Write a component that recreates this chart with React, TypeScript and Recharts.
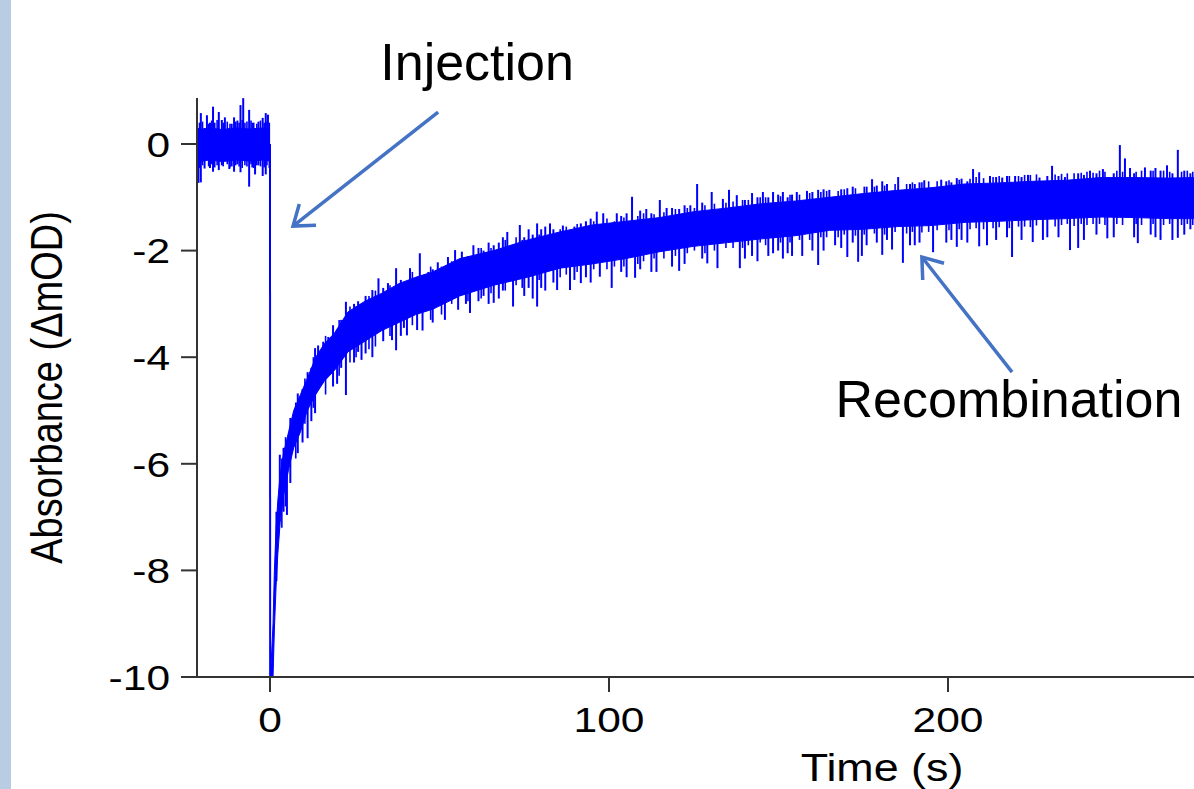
import React from 'react';
import {
  ComposedChart,
  Area,
  Line,
  Scatter,
  ErrorBar,
  XAxis,
  YAxis,
  Label,
  ReferenceLine,
  ReferenceDot,
} from 'recharts';

const FONT = '"Liberation Sans", Arial, Helvetica, sans-serif';
const TRACE = '#0000ff';
const ARROW = '#4472c4';
const AXIS = '#333333';
const STRETCH = 1.18;

// ---- axis ticks ----
const xTicks = [0, 100, 200];
const yTicks = [0, -2, -4, -6, -8, -10];

// ---- pre-injection baseline band (core of the noise) ----
const preT = [-21.4, -18, -14, -10, -6, -2, 0];
const preLo = [-0.34, -0.3, -0.33, -0.3, -0.32, -0.3, -0.32];
const preHi = [0.26, 0.3, 0.27, 0.3, 0.28, 0.3, 0.26];

// ---- injection drop ----
const dropT = [0, 0.05];
const dropV = [0, -10];

// ---- post-injection recovery band (core of the noise) ----
const postT = [0.3, 0.9, 1.3, 1.8, 2.3, 3, 4, 5.5, 7, 9, 11, 13.5, 16, 19, 23, 28, 33, 38, 43, 48, 56, 66, 76, 85.5, 95, 105, 115, 125, 135, 145, 155, 165, 175, 185, 195, 205, 215, 225, 235, 245, 255, 265, 272.6];
const postLo = [-10, -10, -9.1, -8.3, -7.7, -7.1, -6.6, -6.1, -5.7, -5.4, -5.0, -4.7, -4.45, -4.25, -3.9, -3.7, -3.5, -3.35, -3.2, -3.1, -2.85, -2.65, -2.5, -2.33, -2.25, -2.15, -2.02, -1.92, -1.85, -1.78, -1.72, -1.62, -1.6, -1.55, -1.53, -1.47, -1.45, -1.42, -1.4, -1.37, -1.38, -1.4, -1.4];
const postHi = [-9.8, -9.0, -8.0, -7.2, -6.7, -6.2, -5.8, -5.4, -5.0, -4.7, -4.4, -4.0, -3.75, -3.55, -3.15, -2.95, -2.8, -2.62, -2.5, -2.4, -2.15, -2.0, -1.8, -1.65, -1.52, -1.45, -1.38, -1.27, -1.2, -1.12, -1.07, -1.0, -0.93, -0.87, -0.82, -0.75, -0.73, -0.7, -0.68, -0.63, -0.63, -0.64, -0.63];

// ---- large noise spikes: time, low extreme, high extreme ----
const spikeT = [
  -21.1, -20.4, -19.3, -18.6, -17.7, -16.8, -15.1, -14.2, -13.3, -12.0, -11.3, -10.6, -9.6, -8.7, -7.9, -6.15, -5.2, -4.4, -3.4, -2.15, -1.25, -0.6,
  1.9, 2.9, 4.0, 5.0, 6.0, 8.2, 9.6, 11.1, 12.2, 13.3, 14.2, 15.7, 17.2, 18.6, 19.8, 21.0, 22.4, 24.8, 26.0, 27.0, 28.2, 30.2, 32.0, 33.4, 34.8, 36.0, 37.2, 38.6, 39.5, 40.4, 41.3,
  43.4, 44.2, 45.0, 46.7, 48.0, 49.5, 51.6, 52.5, 54.6, 55.5, 56.6, 57.8, 59.0, 60.0, 61.5, 63.0, 64.5, 66.0, 67.5, 68.7, 70.0, 71.7, 73.7, 75.0, 76.3, 77.5, 78.8, 80.0, 81.2, 82.6, 83.6, 84.7, 86.4, 88.5, 89.8,
  91.7, 93.2, 94.6, 96.4, 97.3, 98.3, 100.8, 102.3, 103.6, 105.2, 106.8, 107.7, 109.2, 111.0, 112.5, 114.0, 115.0, 117.0, 118.6, 120.7, 122.3, 124.0, 126.0, 127.5, 129.0, 130.3, 132.0, 133.6, 135.4, 137.7, 138.6,
  140.1, 142.2, 143.8, 145.4, 147.0, 148.4, 149.9, 151.3, 152.7, 154.0, 155.4, 157.0, 158.4, 160.0, 161.7, 163.3, 165.0, 166.7, 168.5, 170.3, 171.9, 173.5, 174.6, 176.0, 177.6, 179.0, 180.6, 182.0, 183.5,
  185.3, 186.7, 188.8, 190.2, 191.6, 193.0, 195.6, 198.0, 199.5, 201.0, 202.6, 204.0, 205.7, 207.4, 209.2, 211.5, 212.4, 214.2, 216.0, 217.4, 218.9, 219.8, 221.7, 223.6, 225.0, 227.0, 228.0, 229.3,
  230.7, 232.6, 234.5, 236.0, 238.4, 240.1, 241.9, 243.8, 245.7, 247.0, 248.9, 250.7, 252.2, 253.7, 254.9, 256.0, 258.1, 259.8, 261.2, 262.7, 264.6, 266.2, 267.8, 269.7, 271.5,
];
const spikeLo = [
  -0.73, -0.72, -0.46, -0.3, -0.45, -0.52, -0.49, -0.4, -0.3, -0.47, -0.42, -0.52, -0.38, -0.53, -0.3, -0.8, -0.44, -0.57, -0.4, -0.6, -0.57, -0.3,
  -8.2, -6.5, -6.9, -6.96, -6.36, -5.8, -5.6, -5.52, -5.2, -5.05, -4.3, -4.1, -4.0, -4.55, -4.5, -4.2, -4.71, -4.1, -3.9, -4.05, -3.93, -4.0, -3.1, -3.7, -3.1, -3.68, -3.87, -3.6, -3.45, -3.59, -2.9,
  -3.49, -2.7, -3.5, -2.8, -3.35, -2.8, -3.3, -2.7, -2.6, -3.11, -2.5, -3.0, -3.17, -2.4, -2.95, -2.85, -3.0, -2.98, -2.9, -2.75, -2.3, -3.05, -2.2, -2.85, -2.7, -2.9, -3.05, -2.7, -2.75, -2.1, -2.6, -2.74, -2.0, -2.74, -2.55,
  -2.61, -2.5, -2.6, -1.9, -2.49, -1.9, -2.7, -1.8, -2.4, -2.5, -1.7, -2.51, -2.35, -1.7, -2.4, -2.4, -1.6, -1.6, -2.3, -2.38, -2.25, -1.5, -1.5, -2.15, -2.24, -1.5, -2.33, -1.4, -1.4, -1.4, -2.33,
  -2.15, -2.1, -2.2, -1.4, -2.1, -2.05, -2.0, -2.15, -2.05, -2.1, -1.3, -2.1, -1.3, -2.0, -2.27, -2.0, -1.3, -1.9, -1.95, -2.12, -1.85, -2.21, -2.1, -1.9, -1.2, -1.85, -2.08, -1.8, -1.98,
  -1.2, -2.23, -1.9, -1.9, -1.85, -1.2, -2.03, -1.1, -1.85, -1.8, -1.93, -1.8, -1.85, -1.1, -1.92, -1.9, -1.1, -1.8, -1.1, -1.75, -2.12, -1.1, -1.8, -1.0, -1.84, -1.0, -1.8, -1.75,
  -1.0, -1.75, -1.0, -1.99, -1.95, -1.8, -1.0, -1.7, -1.0, -1.77, -1.75, -1.0, -1.0, -1.0, -1.75, -1.86, -1.0, -1.7, -1.75, -1.8, -1.0, -1.8, -1.76, -1.7, -1.6,
];
const spikeHi = [
  0.3, 0.58, 0.3, 0.54, 0.4, 0.7, 0.6, 0.45, 0.5, 0.3, 0.38, 0.5, 0.44, 0.73, 0.86, 0.64, 0.4, 0.3, 0.42, 0.49, 0.58, 0.55,
  -6.9, -5.83, -5.7, -6.0, -5.14, -4.68, -4.6, -4.28, -4.2, -3.83, -3.78, -3.71, -3.62, -3.4, -3.5, -3.3, -2.96, -3.0, -2.95, -3.0, -2.85, -2.74, -2.52, -2.7, -2.61, -3.0, -2.33, -2.55, -2.6, -2.9, -2.33,
  -2.8, -2.05, -2.8, -2.4, -2.35, -2.22, -2.7, -2.12, -1.99, -2.5, -2.02, -2.15, -2.4, -1.9, -1.95, -2.0, -1.85, -1.9, -1.85, -1.75, -1.65, -2.2, -1.52, -1.75, -1.6, -1.7, -1.49, -1.6, -1.55, -1.49, -1.6, -2.0, -1.53, -1.9, -1.55,
  -1.49, -1.45, -1.4, -1.27, -1.8, -1.3, -1.8, -1.3, -1.35, -1.3, -0.99, -1.8, -1.25, -1.22, -1.3, -1.7, -1.05, -1.2, -1.2, -1.22, -1.15, -1.15, -0.75, -1.1, -1.5, -0.9, -1.5, -1.03, -0.86, -0.96, -1.5,
  -1.05, -0.92, -1.0, -0.9, -1.0, -0.9, -0.95, -0.9, -1.0, -0.95, -0.9, -1.3, -0.88, -0.9, -0.86, -0.85, -0.86, -1.3, -0.85, -0.83, -0.8, -1.2, -1.2, -0.8, -0.66, -0.78, -0.7, -0.75, -1.2,
  -0.62, -1.2, -0.75, -0.75, -0.72, -0.68, -1.2, -0.67, -0.7, -0.72, -0.64, -0.65, -0.7, -0.47, -0.53, -1.1, -0.6, -0.62, -0.63, -0.6, -1.1, -0.6, -0.62, -0.58, -1.0, -0.63, -1.0, -0.6,
  -0.41, -0.6, -0.62, -1.0, -0.55, -0.58, -0.5, -0.55, -0.47, -1.0, -0.55, -0.02, -0.27, -0.45, -0.55, -1.0, -0.44, -0.5, -0.45, -0.5, -0.4, -0.55, -0.11, -0.5, -0.55,
];

// ---- small noise fuzz along the band edges: time, low, high ----
const fuzzT = [
  -20.8, -19.9, -18.1, -17.2, -16.3, -15.6, -13.8, -12.6, -11.8, -10.1, -9.1, -8.2, -7.4, -6.8, -5.6, -4.8, -3.9, -2.8, -1.7, -0.9, -0.2,
  3.5, 4.6, 7.6, 10.3, 12.8, 16.4, 20.4, 23.6, 25.4, 29.2, 31.1, 35.4, 42.0, 47.4, 50.6, 53.6, 58.4, 62.3, 65.2, 69.4, 72.6, 74.4, 79.4, 85.6, 87.4, 90.6, 95.5, 99.4,
  101.6, 104.4, 108.5, 110.2, 113.3, 116.2, 119.6, 123.1, 125.2, 128.3, 131.1, 134.5, 136.6, 139.4, 141.1, 144.6, 146.2, 150.6, 153.4, 156.2, 159.2, 162.5, 164.2, 167.6, 169.4, 172.7, 175.3, 178.3,
  181.3, 184.4, 187.8, 189.5, 192.3, 194.3, 196.8, 200.3, 203.3, 206.5, 208.3, 210.5, 213.3, 215.1, 218.1, 220.8, 222.6, 224.3, 226.1, 231.6, 233.5, 235.2, 237.2, 239.3, 241.0, 242.8, 244.7,
  246.3, 249.8, 251.5, 255.5, 257.1, 260.5, 263.6, 265.4, 268.9, 270.6, 272.2,
];
const fuzzLo = [
  -0.45, -0.4, -0.42, -0.38, -0.44, -0.4, -0.42, -0.38, -0.44, -0.4, -0.42, -0.45, -0.4, -0.42, -0.38, -0.45, -0.4, -0.42, -0.44, -0.4, -0.45,
  -7.2, -6.8, -5.9, -5.25, -4.95, -4.7, -4.35, -4.1, -4.0, -3.85, -3.8, -3.6, -3.4, -3.3, -3.2, -3.0, -2.95, -2.9, -2.8, -2.75, -2.65, -2.7, -2.55, -2.5, -2.45, -2.4, -2.35, -2.35,
  -2.3, -2.3, -2.25, -2.2, -2.15, -2.15, -2.1, -2.05, -2.0, -2.05, -2.0, -1.95, -1.95, -1.95, -1.9, -1.85, -1.9, -1.85, -1.85, -1.8, -1.8, -1.75, -1.75, -1.75, -1.7, -1.72, -1.7, -1.68,
  -1.7, -1.65, -1.68, -1.65, -1.66, -1.65, -1.62, -1.62, -1.6, -1.6, -1.58, -1.6, -1.58, -1.56, -1.58, -1.55, -1.55, -1.56, -1.53, -1.55, -1.52, -1.5, -1.54, -1.5, -1.52, -1.5, -1.5,
  -1.52, -1.5, -1.52, -1.5, -1.52, -1.5, -1.52, -1.5, -1.52, -1.5, -1.52,
];
const fuzzHi = [
  0.4, 0.42, 0.38, 0.44, 0.4, 0.45, 0.4, 0.42, 0.38, 0.42, 0.4, 0.45, 0.4, 0.42, 0.44, 0.4, 0.38, 0.44, 0.4, 0.42, 0.4,
  -5.9, -5.5, -4.85, -4.4, -4.0, -3.6, -3.3, -3.05, -3.05, -2.85, -2.75, -2.65, -2.4, -2.3, -2.3, -2.2, -2.1, -1.95, -1.95, -1.8, -1.75, -1.8, -1.7, -1.6, -1.55, -1.5, -1.45, -1.4,
  -1.45, -1.38, -1.35, -1.3, -1.32, -1.28, -1.22, -1.2, -1.2, -1.15, -1.12, -1.1, -1.08, -1.05, -1.05, -1.0, -1.0, -0.98, -0.95, -0.95, -0.92, -0.9, -0.88, -0.88, -0.85, -0.83, -0.8, -0.8,
  -0.78, -0.75, -0.75, -0.72, -0.72, -0.7, -0.7, -0.68, -0.67, -0.65, -0.62, -0.64, -0.62, -0.6, -0.6, -0.6, -0.58, -0.58, -0.57, -0.57, -0.56, -0.55, -0.55, -0.54, -0.52, -0.54, -0.5,
  -0.52, -0.5, -0.52, -0.52, -0.5, -0.5, -0.5, -0.52, -0.52, -0.5, -0.52,
];

// ---- annotations (data coordinates) ----
const annotationText = ['Injection', 'Recombination'];
const annotationPos = [
  { t: 61.1, v: 1.2 },
  { t: 218.0, v: -5.12 },
];
const arrowTail = [
  { t: 49.6, v: 0.6 },
  { t: 218.9, v: -4.28 },
];
const arrowHead = [
  { t: 6.8, v: -1.54 },
  { t: 192.3, v: -2.12 },
];

const preBand = preT.map((t, i) => ({ t, band: [preLo[i], preHi[i]] }));
const postBand = postT.map((t, i) => ({ t, band: [postLo[i], postHi[i]] }));
const dropLine = dropT.map((t, i) => ({ t, v: dropV[i] }));
// each spike is drawn as a vertical error bar spanning [low, high]
const toRows = (ts: number[], lo: number[], hi: number[]) =>
  ts.map((t, i) => {
    const mid = (lo[i] + hi[i]) / 2;
    const half = (hi[i] - lo[i]) / 2;
    return { t, mid, err: [half, half] };
  });
const spikeRows = toRows(spikeT, spikeLo, spikeHi);
const fuzzRows = toRows(fuzzT, fuzzLo, fuzzHi);

const renderArrow = (p: any) => {
  const { x1, y1, x2, y2 } = p;
  const ang = Math.atan2(y1 - y2, x1 - x2);
  const L = 23;
  const sp = (36 * Math.PI) / 180;
  const ax = x2 + L * Math.cos(ang + sp);
  const ay = y2 + L * Math.sin(ang + sp);
  const bx = x2 + L * Math.cos(ang - sp);
  const by = y2 + L * Math.sin(ang - sp);
  return (
    <g>
      <line x1={x1} y1={y1} x2={x2} y2={y2} stroke={ARROW} strokeWidth={3.5} />
      <polyline
        points={`${ax},${ay} ${x2},${y2} ${bx},${by}`}
        fill="none"
        stroke={ARROW}
        strokeWidth={3.5}
        strokeLinejoin="miter"
      />
    </g>
  );
};

const makeText = (txt: string) => (p: any) => (
  <text x={p.cx} y={p.cy} textAnchor="middle" fontFamily={FONT} fontSize={52} fill="#000">
    {txt}
  </text>
);

const XTick = (p: any) => {
  const { x, y, payload } = p;
  return (
    <g transform={`translate(${x},${y}) scale(${STRETCH},1)`}>
      <text x={0} y={0} dy="0.71em" textAnchor="middle" fontFamily={FONT} fontSize={36} fill="#000">
        {payload.value}
      </text>
    </g>
  );
};

const YTick = (p: any) => {
  const { x, y, payload } = p;
  return (
    <g transform={`translate(${x},${y}) scale(${STRETCH},1)`}>
      <text x={0} y={0} dy="0.355em" textAnchor="end" fontFamily={FONT} fontSize={36} fill="#000">
        {payload.value}
      </text>
    </g>
  );
};

const renderYLabel = (p: any) => {
  const vb = p.viewBox || { x: 0, y: 98, width: 197, height: 579 };
  const cx = vb.x + 62;
  const cy = vb.y + vb.height / 2;
  return (
    <g transform={`translate(${cx},${cy}) scale(${STRETCH},1) rotate(-90)`}>
      <text x={0} y={0} textAnchor="middle" fontFamily={FONT} fontSize={38} fill="#000">
        Absorbance (ΔmOD)
      </text>
    </g>
  );
};

const renderXLabel = (p: any) => {
  const vb = p.viewBox || { x: 197, y: 677, width: 997, height: 62 };
  const cx = vb.x + 685;
  const cy = vb.y + 104;
  return (
    <g transform={`translate(${cx},${cy}) scale(${STRETCH},1)`}>
      <text x={0} y={0} textAnchor="middle" fontFamily={FONT} fontSize={38} fill="#000">
        Time (s)
      </text>
    </g>
  );
};

const noDot = () => <g />;

export default function App() {
  return (
    <div
      style={{
        position: 'absolute',
        left: 0,
        top: 0,
        width: 1194,
        height: 789,
        background: '#ffffff',
        overflow: 'hidden',
      }}
    >
      <div style={{ position: 'absolute', left: 0, top: 0, width: 11, height: 789, background: '#b8cce4' }} />
      <div style={{ position: 'absolute', left: 0, top: 0 }}>
        <ComposedChart width={1194} height={789} margin={{ top: 98, right: 0, bottom: 50, left: 0 }}>
          <XAxis
            dataKey="t"
            type="number"
            domain={[-21.53, 272.57]}
            allowDataOverflow
            ticks={xTicks}
            tickSize={15}
            tickMargin={14}
            height={62}
            axisLine={{ stroke: AXIS, strokeWidth: 2 }}
            tickLine={{ stroke: AXIS, strokeWidth: 2 }}
            tick={<XTick />}
          >
            <Label content={renderXLabel} />
          </XAxis>
          <YAxis
            type="number"
            domain={[-10, 0.863]}
            allowDataOverflow
            ticks={yTicks}
            width={197}
            tickSize={16}
            tickMargin={11}
            axisLine={{ stroke: AXIS, strokeWidth: 2 }}
            tickLine={{ stroke: AXIS, strokeWidth: 2 }}
            tick={<YTick />}
          >
            <Label content={renderYLabel} />
          </YAxis>
          <Area
            data={preBand}
            dataKey="band"
            type="linear"
            stroke={TRACE}
            strokeWidth={1}
            fill={TRACE}
            fillOpacity={1}
            isAnimationActive={false}
            dot={false}
            activeDot={false}
          />
          <Area
            data={postBand}
            dataKey="band"
            type="linear"
            stroke={TRACE}
            strokeWidth={1}
            fill={TRACE}
            fillOpacity={1}
            isAnimationActive={false}
            dot={false}
            activeDot={false}
          />
          <Line
            data={dropLine}
            dataKey="v"
            type="linear"
            stroke={TRACE}
            strokeWidth={2}
            dot={false}
            activeDot={false}
            isAnimationActive={false}
          />
          <Scatter data={fuzzRows} dataKey="mid" shape={noDot} isAnimationActive={false}>
            <ErrorBar dataKey="err" direction="y" width={0} stroke={TRACE} strokeWidth={1.6} />
          </Scatter>
          <Scatter data={spikeRows} dataKey="mid" shape={noDot} isAnimationActive={false}>
            <ErrorBar dataKey="err" direction="y" width={0} stroke={TRACE} strokeWidth={2} />
          </Scatter>
          {arrowTail.map((a, i) => (
            <ReferenceLine
              key={`arrow-${i}`}
              segment={[
                { x: a.t, y: a.v },
                { x: arrowHead[i].t, y: arrowHead[i].v },
              ]}
              ifOverflow="visible"
              shape={renderArrow}
            />
          ))}
          {annotationPos.map((p, i) => (
            <ReferenceDot
              key={`ann-${i}`}
              x={p.t}
              y={p.v}
              r={0}
              ifOverflow="visible"
              shape={makeText(annotationText[i])}
            />
          ))}
        </ComposedChart>
      </div>
    </div>
  );
}
